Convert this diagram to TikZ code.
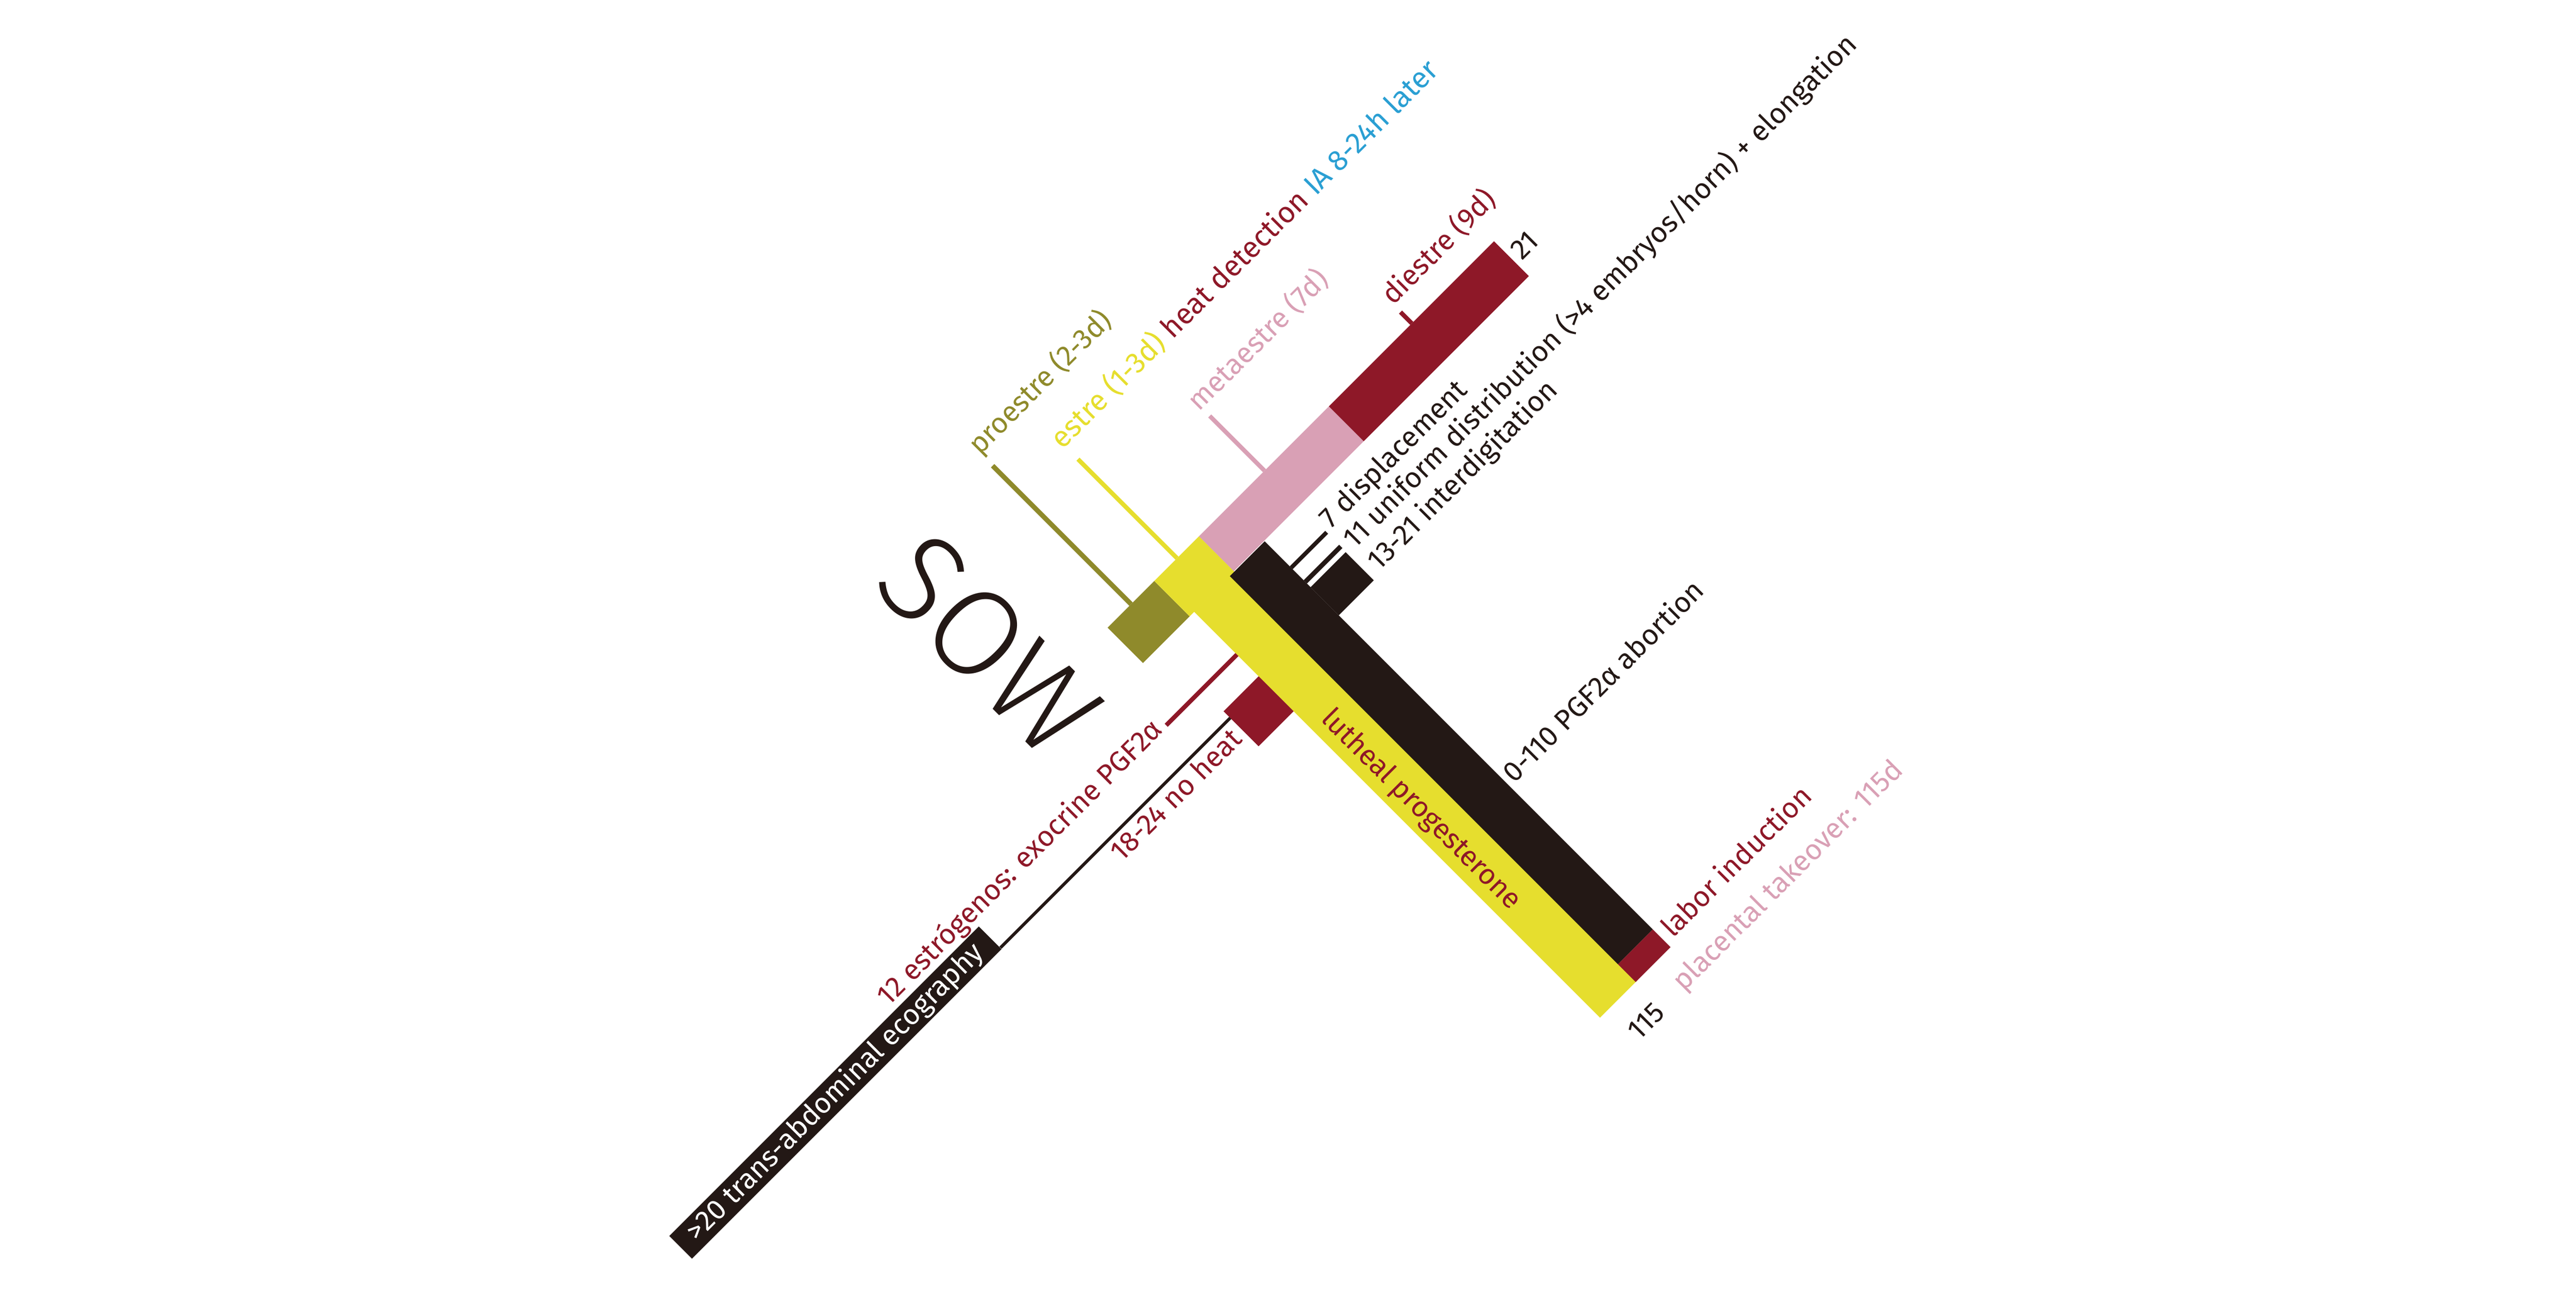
\documentclass[tikz,border=0pt]{standalone}
\usepackage{fontspec}
\setmainfont{Fira Sans}
\newfontfamily\sowfont{Fira Sans Light}
\usetikzlibrary{positioning}
\definecolor{olivec}{HTML}{8F8A2B}
\definecolor{yellowc}{HTML}{E6DE2E}
\definecolor{pinkc}{HTML}{D9A0B5}
\definecolor{redc}{HTML}{8E1828}
\definecolor{blackc}{HTML}{231815}
\definecolor{bluec}{HTML}{2A9FD3}

\begin{document}
\begin{tikzpicture}[
        lbl/.style={font=\fontsize{9.2}{10.2}\selectfont, inner sep=0pt,
            rotate=45, anchor=base west},
        lbleast/.style={lbl, anchor=base east},
        tick/.style={line width=0.5mm}
    ]
    \useasboundingbox (0,0) rectangle (29.275,-14.815);
    % x runs down the progesterone bar, y runs up along the cycle bar
    \begin{scope}[shift={(13.1175cm,-6.602cm)}, rotate=-45, x=0.005cm, y=0.005cm]
        % cycle bar
        \fill[olivec] (0,-150) rectangle (113.6,0);
        \fill[yellowc] (0,0) rectangle (113.6,143.6);
        \fill[pinkc] (0,143.6) rectangle (112,560.6);
        \fill[redc] (0,560.6) rectangle (112,1091);
        % pregnancy bars
        \fill[yellowc] (113,14.4) rectangle (1417,135);
        \fill[blackc] (113.6,129) rectangle (1360,241);
        \fill[redc] (1360,129) rectangle (1417,241);
        \fill[blackc] (194,241) rectangle (203.3,355);
        \fill[blackc] (238.7,241) rectangle (249.4,355);
        \fill[blackc] (261,241) rectangle (351.4,353.5);
        \fill[redc] (320.7,-98) rectangle (432.9,14.4);

        % connector ends
        \coordinate (olive-c) at (0,-74.5);
        \coordinate (proestre-tip) at (-444.5,-74.5);
        \coordinate (estre-c) at (0,73);
        \coordinate (estre-tip) at (-318,73);
        \coordinate (meta-c) at (0,354);
        \coordinate (meta-tip) at (-176,354);
        \coordinate (diestre-c) at (0,827);
        \coordinate (diestre-tip) at (-36.4,827);
        \coordinate (estro-c) at (251,14.4);
        \coordinate (estro-tip) at (251,-212.5);
        \coordinate (eco-end) at (342,-836);
        \coordinate (noheat-w) at (342,-98);

        \draw[olivec, line width=0.55mm] (olive-c) -- (proestre-tip);
        \draw[yellowc, tick] (estre-c) -- (estre-tip);
        \draw[pinkc, line width=0.48mm] (meta-c) -- (meta-tip);
        \draw[redc, tick] (diestre-c) -- (diestre-tip);
        \draw[redc, tick] (estro-c) -- (estro-tip);
        \draw[blackc, line width=0.35mm] (eco-end) -- (noheat-w);

        % labels
        \node[lbl, text=olivec] (proestre) at (-481,-80) {proestre (2-3d)};
        \node[lbl, font=\fontsize{9.5}{10.5}\selectfont] (estre) at (-357.5,62)
            {\color{yellowc}estre (1-3d) \color{redc}heat detection
            \color{bluec}IA 8-24h later};
        \node[lbl, text=pinkc] (meta) at (-198.6,342) {metaestre (7d)};
        \node[lbl, text=redc] (diestre) at (-58,824) {diestre (9d)};
        \node[lbl, text=blackc] (d21) at (77,1103) {21};
        \node[lbl, text=blackc] (displ) at (201,366) {7 displacement};
        \node[lbl, text=blackc] (unif) at (272,371)
            {11 uniform distribution (>4 embryos/horn) + elongation};
        \node[lbl, text=blackc] (interd) at (346,374) {13-21 interdigitation};
        \node[lbl, text=blackc] (abort) at (904,251) {0-110 PGF2α abortion};
        \node[lbl, text=redc] (labor) at (1407,257) {labor induction};
        \node[lbl, text=blackc] (d115) at (1518,37) {115};
        \node[lbl, text=pinkc] (placenta) at (1511,189) {placental takeover: 115d};
        \node[lbleast, text=redc] (estro) at (257,-225) {12 estrógenos: exocrine PGF2α};
        \node[lbleast, text=redc] (noheat) at (400,-112) {18-24 no heat};
        \node[font=\fontsize{9.2}{10.2}\selectfont, rotate=45, fill=blackc, text=white,
            inner sep=0pt, minimum width=4.975cm, minimum height=0.365cm]
            (eco) at (309.5,-1333.5) {>20 trans-abdominal ecography};
        \node[font=\fontsize{9.2}{10.2}\selectfont, rotate=-45, text=redc, inner sep=0pt]
            (luteal) at (795.5,60) {lutheal progesterone};
        \node[font=\sowfont\fontsize{40}{44}\selectfont, rotate=-45, text=blackc,
            inner sep=0pt] (sow) at (-163.4,-368.9) {SOW};
    \end{scope}
\end{tikzpicture}
\end{document}
